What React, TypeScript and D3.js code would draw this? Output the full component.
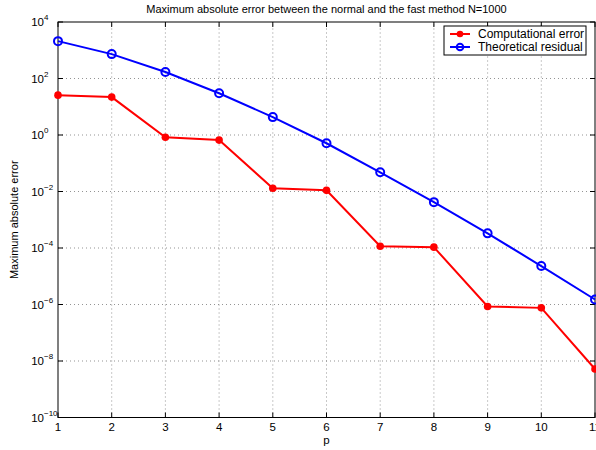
import React, { useEffect, useRef } from "react";
import * as d3 from "d3";

const pValues = [1, 2, 3, 4, 5, 6, 7, 8, 9, 10, 11];
const computationalError = [25.7, 22, 0.83, 0.66, 0.013, 0.011, 1.15e-4, 1.07e-4, 8.5e-7, 7.6e-7, 5.2e-9];
const theoreticalResidual = [2100, 730, 170, 30, 4.3, 0.51, 0.048, 0.0042, 3.3e-4, 2.3e-5, 1.5e-6];
const yTickExponents = [4, 2, 0, -2, -4, -6, -8, -10];
const seriesNames = ["Computational error", "Theoretical residual"];

export default function App() {
  const svgRef = useRef<SVGSVGElement | null>(null);

  useEffect(() => {
    const svg = d3.select(svgRef.current);
    svg.selectAll("*").remove();

    const width = 596, height = 450;
    const margin = { top: 22, right: 1, bottom: 32.5, left: 58 };
    const font = "Helvetica, 'Liberation Sans', Arial, sans-serif";

    const x = d3.scaleLinear().domain([1, 11]).range([margin.left, width - margin.right]);
    const y = d3.scaleLog().domain([1e-10, 1e4]).range([height - margin.bottom, margin.top]);

    const x0 = x.range()[0], x1 = x.range()[1];
    const y0 = y.range()[0], y1 = y.range()[1];

    svg.append("rect").attr("width", width).attr("height", height).attr("fill", "white");

    // dotted grid
    const grid = svg.append("g").attr("stroke", "#666").attr("stroke-width", 0.7).attr("stroke-dasharray", "1,3");
    pValues.slice(1, -1).forEach(p => {
      grid.append("line").attr("x1", x(p)).attr("x2", x(p)).attr("y1", y0).attr("y2", y1);
    });
    yTickExponents.slice(1, -1).forEach(e => {
      const yy = y(Math.pow(10, e));
      grid.append("line").attr("x1", x0).attr("x2", x1).attr("y1", yy).attr("y2", yy);
    });

    // ticks inside on all four sides
    const ticks = svg.append("g").attr("stroke", "black").attr("stroke-width", 1);
    pValues.forEach(p => {
      ticks.append("line").attr("x1", x(p)).attr("x2", x(p)).attr("y1", y0).attr("y2", y0 - 5);
      ticks.append("line").attr("x1", x(p)).attr("x2", x(p)).attr("y1", y1).attr("y2", y1 + 5);
    });
    yTickExponents.forEach(e => {
      const yy = y(Math.pow(10, e));
      ticks.append("line").attr("x1", x0).attr("x2", x0 + 5).attr("y1", yy).attr("y2", yy);
      ticks.append("line").attr("x1", x1).attr("x2", x1 - 5).attr("y1", yy).attr("y2", yy);
    });

    svg.append("rect").attr("x", x0).attr("y", y1).attr("width", x1 - x0).attr("height", y0 - y1)
      .attr("fill", "none").attr("stroke", "black").attr("stroke-width", 1);

    // x tick labels
    svg.append("g").selectAll("text").data(pValues).enter().append("text")
      .attr("x", d => x(d)).attr("y", y0 + 13).attr("text-anchor", "middle")
      .attr("font-family", font).attr("font-size", 11.5).text(d => String(d));

    // y tick labels: 10 with superscript exponent
    yTickExponents.forEach(e => {
      const yy = y(Math.pow(10, e));
      svg.append("text").attr("x", x0 - 14).attr("y", yy + 4).attr("text-anchor", "end")
        .attr("font-family", font).attr("font-size", 11.5).text("10");
      svg.append("text").attr("x", x0 - 14).attr("y", yy - 2).attr("text-anchor", "start")
        .attr("font-family", font).attr("font-size", 8).text(e < 0 ? "\u2212" + Math.abs(e) : String(e));
    });

    // title and axis labels
    svg.append("text").attr("x", (x0 + x1) / 2).attr("y", 13).attr("text-anchor", "middle")
      .attr("font-family", font).attr("font-size", 11).text("Maximum absolute error between the normal and the fast method N=1000");
    svg.append("text").attr("x", (x0 + x1) / 2).attr("y", 444).attr("text-anchor", "middle")
      .attr("font-family", font).attr("font-size", 11.5).text("p");
    svg.append("text").attr("transform", `translate(18,${(y0 + y1) / 2}) rotate(-90)`).attr("text-anchor", "middle")
      .attr("font-family", font).attr("font-size", 11).text("Maximum absolute error");

    const line = d3.line<number>().x((_, i) => x(pValues[i])).y(d => y(d));

    // series
    svg.append("path").datum(theoreticalResidual).attr("d", line).attr("fill", "none")
      .attr("stroke", "#0000ff").attr("stroke-width", 2);
    svg.append("g").selectAll("circle").data(theoreticalResidual).enter().append("circle")
      .attr("cx", (_, i) => x(pValues[i])).attr("cy", d => y(d)).attr("r", 4)
      .attr("fill", "none").attr("stroke", "#0000ff").attr("stroke-width", 2);

    svg.append("path").datum(computationalError).attr("d", line).attr("fill", "none")
      .attr("stroke", "#ff0000").attr("stroke-width", 2);
    svg.append("g").selectAll("circle").data(computationalError).enter().append("circle")
      .attr("cx", (_, i) => x(pValues[i])).attr("cy", d => y(d)).attr("r", 3.8)
      .attr("fill", "#ff0000");

    // legend
    const lg = svg.append("g");
    lg.append("rect").attr("x", 444).attr("y", 26).attr("width", 142).attr("height", 29)
      .attr("fill", "white").attr("stroke", "black").attr("stroke-width", 1);
    const colors = ["#ff0000", "#0000ff"];
    seriesNames.forEach((name, i) => {
      const ly = 34 + i * 13;
      lg.append("line").attr("x1", 450).attr("x2", 470).attr("y1", ly).attr("y2", ly)
        .attr("stroke", colors[i]).attr("stroke-width", 2);
      lg.append("circle").attr("cx", 460).attr("cy", ly).attr("r", 3.3)
        .attr("fill", i === 0 ? colors[i] : "none")
        .attr("stroke", colors[i]).attr("stroke-width", i === 0 ? 0 : 2);
      lg.append("text").attr("x", 478).attr("y", ly + 4).attr("font-family", font).attr("font-size", 12).text(name);
    });
  }, []);

  return <svg ref={svgRef} width={596} height={450} style={{ position: "absolute", left: 0, top: 0 }}></svg>;
}
